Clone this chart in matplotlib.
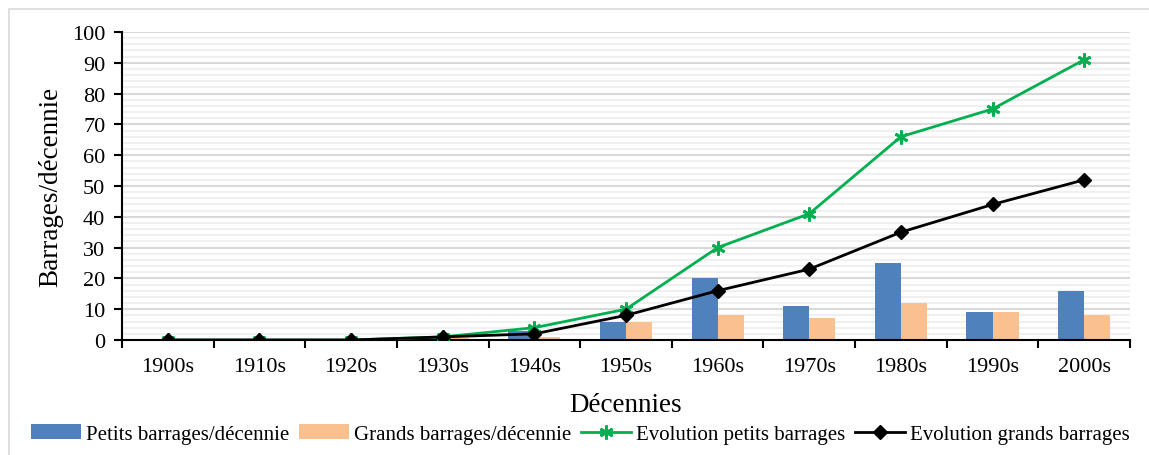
import numpy as np
import matplotlib
matplotlib.use("Agg")
from matplotlib import pyplot as plt
from matplotlib.patches import Rectangle
from matplotlib.ticker import MultipleLocator

plt.rcParams['font.family'] = ['Liberation Serif', 'DejaVu Serif']

decennies = ["1900s", "1910s", "1920s", "1930s", "1940s", "1950s",
             "1960s", "1970s", "1980s", "1990s", "2000s"]
petits = [0, 0, 0, 1, 3, 6, 20, 11, 25, 9, 16]
grands = [0, 0, 0, 0.5, 1, 6, 8, 7, 12, 9, 8]
evol_petits = [0, 0, 0, 1, 4, 10, 30, 41, 66, 75, 91]
evol_grands = [0, 0, 0, 1, 2, 8, 16, 23, 35, 44, 52]

fig = plt.figure(figsize=(11.49, 4.56), dpi=100)
# cadre gris autour du graphique
fig.patches.append(Rectangle((9 / 1149, -0.1), 1.2, 1 - 10 / 456 + 0.1,
                             transform=fig.transFigure, fill=False,
                             edgecolor='#d9d9d9', linewidth=1.2))

ax = fig.add_axes([122 / 1149, 1 - 341 / 456, 1008 / 1149, 308 / 456])

x = np.arange(len(decennies))
w = 0.285
b1 = ax.bar(x - w / 2, petits, w, color='#4f81bd', label='Petits barrages/décennie', zorder=2)
b2 = ax.bar(x + w / 2, grands, w, color='#fac090', label='Grands barrages/décennie', zorder=2)
l1, = ax.plot(x, evol_petits, color='#00b050', linewidth=2, marker=(6, 2, 0),
              markersize=10, markeredgewidth=2, label='Evolution petits barrages', zorder=3)
l2, = ax.plot(x, evol_grands, color='black', linewidth=2, marker='D',
              markersize=7, label='Evolution grands barrages', zorder=4)

ax.set_xlim(-0.5, len(decennies) - 0.5)
ax.set_ylim(0, 100)
ax.yaxis.set_major_locator(MultipleLocator(10))
ax.yaxis.set_minor_locator(MultipleLocator(2))
ax.grid(axis='y', which='major', color='#d9d9d9', linewidth=1.5, zorder=0)
ax.grid(axis='y', which='minor', color='#f0f0f0', linewidth=1.5, zorder=0)
ax.set_axisbelow(True)

# ticks x aux limites des catégories
ax.set_xticks(np.arange(-0.5, len(decennies)), minor=False)
ax.set_xticklabels([])
ax.set_xticks(x, minor=True)
ax.set_xticklabels(decennies, minor=True)
ax.tick_params(axis='x', which='major', direction='out', length=6, width=1.5)
ax.tick_params(axis='x', which='minor', length=0, labelsize=16, pad=12)
ax.tick_params(axis='y', which='major', direction='out', length=6, width=1.5,
               labelsize=16, pad=6)
ax.tick_params(axis='y', which='minor', length=0)

for s in ['top', 'right']:
    ax.spines[s].set_visible(False)
for s in ['left', 'bottom']:
    ax.spines[s].set_linewidth(1.5)

ax.set_xlabel("Décennies", fontsize=19.5, labelpad=12)
ax.set_ylabel("Barrages/décennie", fontsize=19.5, labelpad=6)

fig.legend([b1, b2, l1, l2], [h.get_label() for h in (b1, b2, l1, l2)],
           loc='center', bbox_to_anchor=(0.505, 0.046), ncol=4, frameon=False,
           fontsize=15, handlelength=2.4, columnspacing=0.47, handletextpad=0.23)

fig.savefig("out.png", dpi=100)
